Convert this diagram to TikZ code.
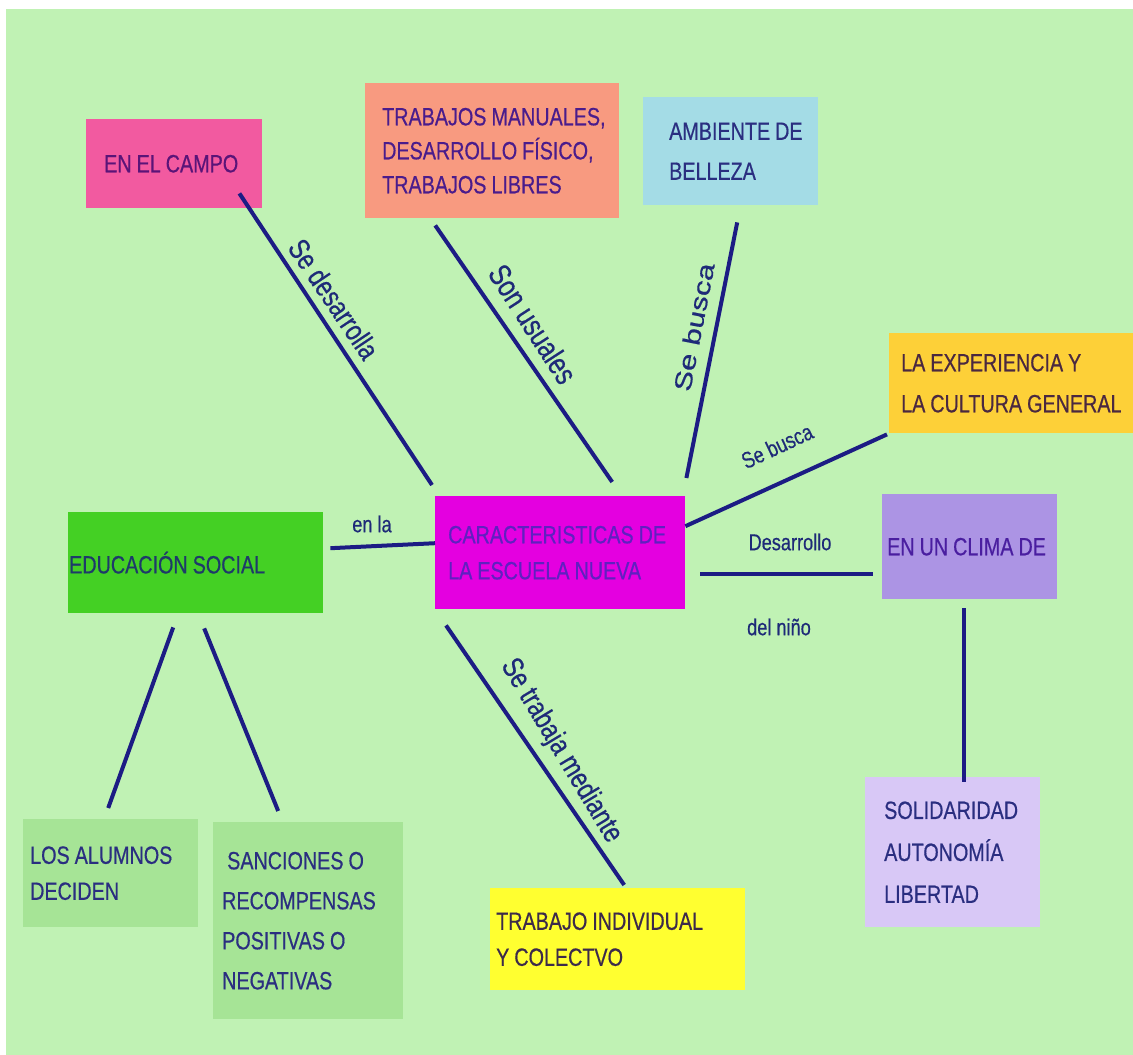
\documentclass[tikz,border=0pt]{standalone}
\usepackage{fontspec}
\setmainfont{Liberation Sans}[FakeStretch=0.79,FakeBold=0.5]
\newfontfamily\ancha{Liberation Sans}[FakeStretch=1.3,FakeBold=0.5]
\definecolor{fondo}{HTML}{C0F2B4}
\definecolor{lineas}{HTML}{1C1C84}
\definecolor{campo}{HTML}{F25AA0}
\definecolor{manuales}{HTML}{F89A80}
\definecolor{belleza}{HTML}{A4DCE6}
\definecolor{experiencia}{HTML}{FDD038}
\definecolor{clima}{HTML}{AC94E4}
\definecolor{solidaridad}{HTML}{D8C8F6}
\definecolor{escuela}{HTML}{E400E0}
\definecolor{social}{HTML}{44D024}
\definecolor{alumnos}{HTML}{A6E496}
\definecolor{individual}{HTML}{FFFF30}
\definecolor{tcampo}{HTML}{5A1478}
\definecolor{tmanuales}{HTML}{4A1C8C}
\definecolor{tazul}{HTML}{2A2E80}
\definecolor{texp}{HTML}{4A2840}
\definecolor{tclima}{HTML}{4A1EA0}
\definecolor{tescuela}{HTML}{6020C0}
\definecolor{tsocial}{HTML}{1E3A6A}
\definecolor{tindiv}{HTML}{3C2A4A}
\definecolor{tetiq}{HTML}{1E2A78}
\tikzset{
    %Define style for boxes
    caja/.style={
           rectangle,
           anchor=north west,
           align=left,
           inner ysep=0pt,
           execute at begin node={\hyphenpenalty=10000\spaceskip=0.2em},
           font=\fontsize{25}{#1}\selectfont},
    caja/.default=34,
    %Define style for line labels
    etiq/.style={
           text=tetiq,
           inner sep=0pt,
           font=\fontsize{23}{27}\selectfont},
    etiqgrande/.style={
           etiq,
           font=\fontsize{#1}{33}\selectfont},
    etiqgrande/.default=29.5,
    % Define line style
    linea/.style={
           draw=lineas,
           line width=4pt}
}
\begin{document}
\begin{tikzpicture}[x=1pt,y=-1pt]

 \fill[white] (0,0) rectangle (1133,1055);
 \fill[fondo] (6,9) rectangle (1133,1055);
 \useasboundingbox (0,0) rectangle (1133,1055);

 % boxes
 \node[caja, fill=campo, text=tcampo, text width=140pt, inner xsep=18pt, minimum height=89pt] (campo) at (86,119) {EN~EL~CAMPO};
 \node[caja, fill=manuales, text=tmanuales, text width=220pt, inner xsep=17pt, minimum height=135pt] (manuales) at (365,83) {TRABAJOS~MANUALES,\\DESARROLLO~FÍSICO,\\TRABAJOS~LIBRES};
 \node[caja=40, fill=belleza, text=tazul, text width=123pt, inner xsep=26pt, minimum height=108pt] (belleza) at (643,97) {AMBIENTE~DE\\BELLEZA};
 \node[caja=41, fill=experiencia, text=texp, text width=220pt, inner xsep=12pt, minimum height=100pt] (experiencia) at (889,333) {LA~EXPERIENCIA~Y\\LA~CULTURA~GENERAL};
 \node[caja, fill=clima, text=tclima, text width=165pt, inner xsep=5pt, minimum height=105pt] (clima) at (882,494) {EN~UN~CLIMA~DE};
 \node[caja=42, fill=solidaridad, text=tazul, text width=137pt, inner xsep=19pt, minimum height=150pt] (solidaridad) at (865,777) {SOLIDARIDAD\\AUTONOMÍA\\LIBERTAD};
 \node[caja=36, fill=escuela, text=tescuela, text width=224pt, inner xsep=13pt, minimum height=113pt] (escuela) at (435,496) {CARACTERISTICAS~DE\\LA~ESCUELA~NUEVA};
 \node[caja, fill=social, text=tsocial, text width=253pt, inner xsep=1pt, minimum height=101pt] (social) at (68,512) {EDUCACIÓN SOCIAL};
 \node[caja=36, fill=alumnos, text=tazul, text width=161pt, inner xsep=7pt, minimum height=108pt] (alumnos) at (23,819) {LOS~ALUMNOS\\DECIDEN};
 \node[caja=40, fill=alumnos, text=tazul, text width=172pt, inner xsep=9pt, minimum height=197pt] (sanciones) at (213,822) {\ SANCIONES~O\\RECOMPENSAS\\POSITIVAS~O\\NEGATIVAS};
 \node[caja=36, fill=individual, text=tindiv, text width=243pt, inner xsep=6pt, minimum height=102pt] (individual) at (490,888) {TRABAJO~INDIVIDUAL\\Y~COLECTVO};

 % connectors
 \draw[linea] ([shift={(-23,-15)}]campo.south east) -- ([shift={(-3,-11)}]escuela.north west);
 \draw[linea] ([shift={(-57,7)}]manuales.south) -- ([shift={(52,-14)}]escuela.north);
 \draw[linea] ([shift={(6.5,17)}]belleza.south) -- ([shift={(1,-18)}]escuela.north east);
 \draw[linea] ([shift={(0,-26.5)}]escuela.east) -- ([shift={(-2,1)}]experiencia.south west);
 \draw[linea] ([shift={(15,21.5)}]escuela.east) -- ([shift={(-9,27.5)}]clima.west);
 \draw[linea] ([shift={(-5.5,9)}]clima.south) -- ([shift={(11.5,5)}]solidaridad.north);
 \draw[linea] ([shift={(7,-14.5)}]social.east) -- ([shift={(0,-9.5)}]escuela.west);
 \draw[linea] ([shift={(-22.5,14)}]social.south) -- ([shift={(-2.5,-11)}]alumnos.north);
 \draw[linea] ([shift={(8.5,15)}]social.south) -- ([shift={(-30,-11)}]sanciones.north);
 \draw[linea] ([shift={(11,16)}]escuela.south west) -- ([shift={(6.5,-3)}]individual.north);

 % labels
 \node[etiqgrande, rotate=-56] (desarrolla) at (334,299) {Se desarrolla};
 \node[etiqgrande=31, rotate=-57] (usuales) at (533,324) {Son usuales};
 \node[etiq, rotate=79, font=\ancha\fontsize{24}{28}\selectfont] (busca) at (694,327) {Se busca};
 \node[etiq, rotate=25] (buscados) at (777,446) {Se busca};
 \node[etiq] (desarrollo) at (790,542) {Desarrollo};
 \node[etiq] (nino) at (779,627) {del niño};
 \node[etiq] (enla) at (372,524) {en la};
 \node[etiqgrande, rotate=-59] (mediante) at (561,751) {Se trabaja mediante};
\end{tikzpicture}
\end{document}
